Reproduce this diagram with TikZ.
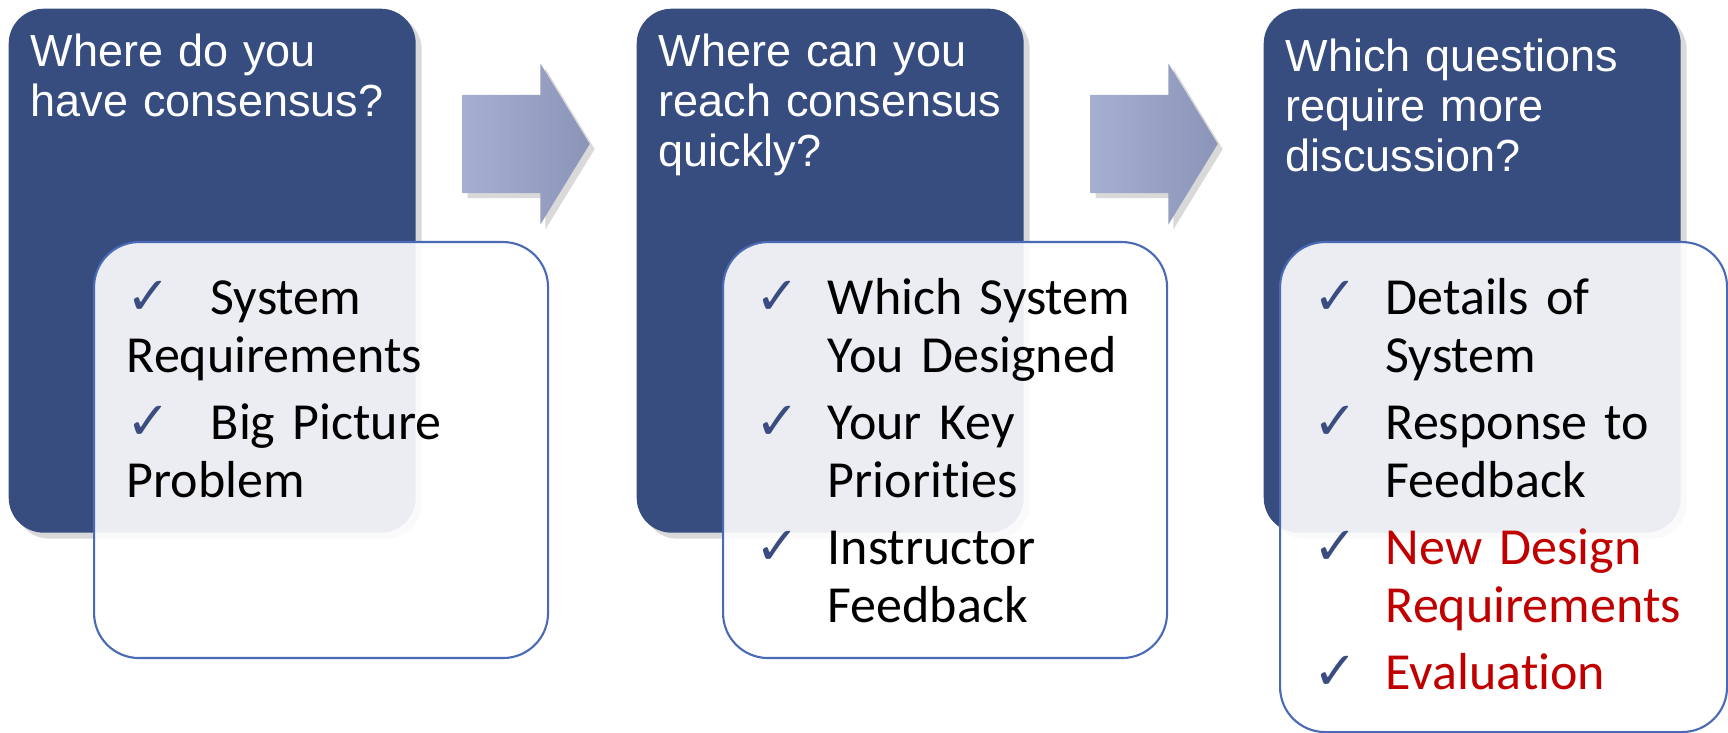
\documentclass[tikz,border=0pt]{standalone}
\usepackage{fontspec}
\setmainfont{Carlito}[Ligatures=NoCommon]
\newfontfamily\headfont{Liberation Sans}
\newfontfamily\chkfont{DejaVu Sans}
\usetikzlibrary{shapes.arrows,shadows}

\definecolor{qblue}{HTML}{374D80}
\definecolor{lborder}{HTML}{4A6AB6}
\definecolor{chkblue}{HTML}{3A4C80}
\definecolor{ared}{HTML}{C00000}
\definecolor{alight}{HTML}{A7AFD1}
\definecolor{adark}{HTML}{8B95B9}

\newcommand{\chk}[1]{\makebox[#1][l]{\chkfont\fontsize{15pt}{16pt}\selectfont\color{chkblue}✓}}

\begin{document}
\begin{tikzpicture}[x=0.1mm,y=-0.1mm,
  qbox/.style={fill=qblue,rounded corners=3.5mm,anchor=north west,minimum height=52.4mm,
    drop shadow={opacity=0.3,shadow xshift=0.6mm,shadow yshift=-0.6mm}},
  lbox/.style={draw=lborder,line width=0.6pt,fill=white,fill opacity=0.9,
    rounded corners=4.5mm,anchor=north west},
  harrow/.style={single arrow,anchor=tail,minimum height=12.7mm,minimum width=16mm,
    inner xsep=0pt,inner ysep=4.85mm,
    single arrow head extend=3.15mm,single arrow tip angle=117,
    left color=alight,right color=adark,
    drop shadow={opacity=0.3,shadow xshift=0.5mm,shadow yshift=-0.5mm}},
  head/.style={anchor=base west,text=white,align=left,inner sep=0pt,text width=38mm,
    font=\headfont\fontsize{12.8pt}{14.2pt}\selectfont},
  items/.style={anchor=base west,align=left,inner sep=0pt,text width=42mm,
    font=\fontsize{14.8pt}{16.5pt}\selectfont}]
\useasboundingbox (0,0) rectangle (1728,733);

  % question boxes
  \node[qbox,minimum width=40.7mm] (q1) at (8,8) {};
  \node[qbox,minimum width=38.7mm] (q2) at (636,8) {};
  \node[qbox,minimum width=41.7mm] (q3) at (1263,8) {};

  % arrows
  \node[harrow] (a1) at (462,144) {};
  \node[harrow] (a2) at (1090,144) {};

  % answer boxes
  \node[lbox,minimum width=45.4mm,minimum height=41.6mm] (l1) at (93,241) {};
  \node[lbox,minimum width=44.4mm,minimum height=41.6mm] (l2) at (722,241) {};
  \node[lbox,minimum width=44.7mm,minimum height=49mm] (l3) at (1279,241) {};

  \node[head] (t1) at (30,67) {Where do you\\have consensus?};
  \node[head] (t2) at (658,67) {Where can you\\reach consensus\\quickly?};
  \node[head] (t3) at (1285,72) {Which questions\\require more\\discussion?};

  \node[items] (i1) at (126,315) {\chk{8.4mm}System\\Requirements\\[0.9mm]
    \chk{8.4mm}Big Picture\\Problem};
  \node[items] (i2) at (755,315) {\chk{7.2mm}Which System\\\hspace*{7.2mm}You Designed\\[0.9mm]
    \chk{7.2mm}Your Key\\\hspace*{7.2mm}Priorities\\[0.9mm]
    \chk{7.2mm}Instructor\\\hspace*{7.2mm}Feedback};
  \node[items] (i3) at (1313,315) {\chk{7.2mm}Details of\\\hspace*{7.2mm}System\\[0.9mm]
    \chk{7.2mm}Response to\\\hspace*{7.2mm}Feedback\\[0.9mm]
    \chk{7.2mm}{\color{ared}New Design}\\\hspace*{7.2mm}{\color{ared}Requirements}\\[0.9mm]
    \chk{7.2mm}{\color{ared}Evaluation}};

\end{tikzpicture}
\end{document}
